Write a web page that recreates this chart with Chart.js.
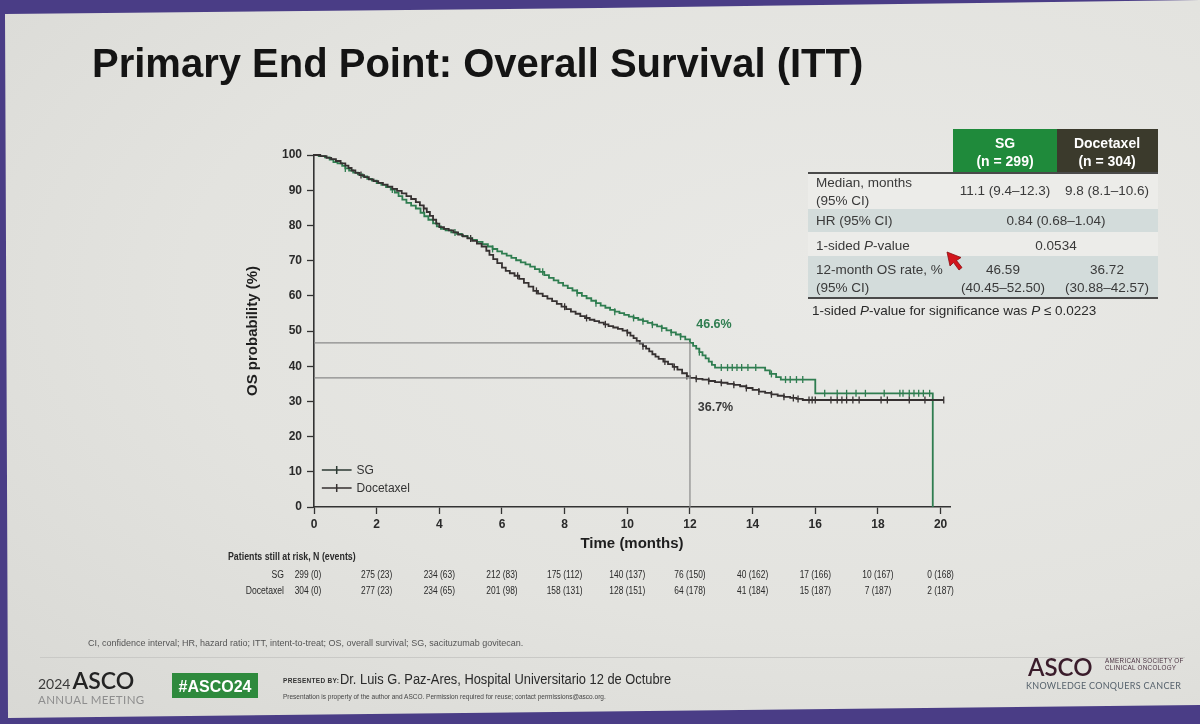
<!DOCTYPE html>
<html>
<head>
<meta charset="utf-8">
<script src="https://cdn.jsdelivr.net/npm/chart.js@4.4.1/dist/chart.umd.min.js"></script>
<style>
html,body{margin:0;padding:0;width:1200px;height:724px;overflow:hidden;background:#4a3d86;font-family:"Liberation Sans",Arial,sans-serif;}
#slide{position:absolute;left:0;top:0;width:1200px;height:724px;
  background:radial-gradient(ellipse at 70% 40%,#e9e9e6 0%,#e3e3df 55%,#d8d8d4 100%);
  clip-path:polygon(5px 14px,600px 8px,1200px 0,1200px 705px,8px 718px);}
#c{position:absolute;left:0;top:0;z-index:2;}
.t{position:absolute;white-space:nowrap;z-index:3;}
.box{position:absolute;z-index:1;}
</style>
</head>
<body>
<div id="slide"></div>
<canvas id="c" width="1200" height="724"></canvas>
<div id="ov"></div>
<script>
// ---------------- data ----------------
const months = [0,2,4,6,8,10,12,14,16,18,20];
const yTicks = [0,10,20,30,40,50,60,70,80,90,100];

const sgTime = [
  0,0.15,0.35,0.5,0.62,0.75,0.9,1.0,1.12,1.25,
  1.4,1.55,1.7,1.85,2.0,2.15,2.3,2.45,2.58,2.7,
  2.82,2.95,3.1,3.25,3.4,3.52,3.65,3.8,3.92,4.05,
  4.2,4.38,4.55,4.72,4.9,5.05,5.2,5.38,5.55,5.7,
  5.85,6.0,6.15,6.3,6.45,6.6,6.75,6.9,7.05,7.2,
  7.35,7.5,7.65,7.8,7.95,8.1,8.25,8.4,8.55,8.7,
  8.85,9.0,9.15,9.3,9.45,9.6,9.75,9.9,10.05,10.2,
  10.35,10.5,10.65,10.8,10.95,11.1,11.25,11.4,11.55,11.7,
  11.85,12.0,12.1,12.2,12.3,12.4,12.5,12.6,12.7,12.8,
  14.4,14.55,14.75,14.9,16.0,19.75];
const sgSurv = [
  100,99.7,99.3,98.7,98.0,97.6,96.9,96.2,95.6,95.0,
  94.5,93.9,93.2,92.7,92.0,91.5,90.9,90.2,89.3,88.3,
  87.3,86.4,85.6,84.8,83.6,82.6,81.6,80.6,79.7,79.0,
  78.6,78.0,77.6,77.0,76.4,75.9,75.3,74.7,74.0,73.3,
  72.6,72.0,71.4,70.8,70.1,69.5,68.9,68.3,67.6,66.8,
  65.9,65.1,64.4,63.7,62.9,62.2,61.5,60.8,60.0,59.3,
  58.6,57.9,57.2,56.6,56.0,55.5,55.1,54.6,54.1,53.7,
  53.2,52.8,52.3,51.8,51.3,50.8,50.2,49.6,49.0,48.4,
  47.6,46.6,45.8,45.0,44.0,43.1,42.2,41.3,40.4,39.6,
  38.8,37.8,36.9,36.2,32.3,0];

const docTime = [
  0,0.2,0.4,0.55,0.7,0.85,1.0,1.1,1.2,1.32,
  1.45,1.6,1.75,1.9,2.05,2.2,2.35,2.5,2.65,2.8,
  2.95,3.1,3.25,3.38,3.5,3.6,3.7,3.8,3.9,4.0,
  4.15,4.3,4.45,4.6,4.75,4.9,5.05,5.2,5.35,5.5,
  5.6,5.72,5.85,6.0,6.12,6.25,6.4,6.55,6.7,6.85,
  7.0,7.15,7.3,7.45,7.6,7.75,7.9,8.05,8.2,8.35,
  8.5,8.65,8.8,8.95,9.1,9.25,9.4,9.55,9.7,9.85,
  10.0,10.1,10.2,10.3,10.4,10.5,10.6,10.7,10.8,10.9,
  11.0,11.15,11.3,11.45,11.6,11.75,11.9,12.0,12.2,12.4,
  12.6,12.8,13.0,13.2,13.4,13.6,13.8,14.0,14.2,14.4,
  14.6,14.8,15.0,15.2,15.4,15.6,20.1];
const docSurv = [
  100,99.7,99.2,98.8,98.3,97.6,97.0,96.3,95.6,94.9,
  94.3,93.7,93.1,92.6,92.1,91.6,91.0,90.4,89.8,89.1,
  88.3,87.5,86.6,85.7,84.8,83.8,82.7,81.6,80.5,79.5,
  79.0,78.6,78.0,77.4,76.9,76.3,75.6,74.8,74.0,72.8,
  71.6,70.4,69.3,68.0,67.1,66.4,65.7,64.8,63.7,62.6,
  61.4,60.6,59.9,59.2,58.5,57.7,56.9,56.2,55.5,54.9,
  54.2,53.7,53.2,52.8,52.4,51.9,51.4,51.0,50.6,50.1,
  49.5,48.7,48.0,47.2,46.4,45.7,45.0,44.2,43.4,42.7,
  42.1,41.3,40.6,39.8,39.0,38.0,37.2,36.7,36.4,36.2,
  35.8,35.5,35.3,35.0,34.7,34.3,33.8,33.3,32.8,32.4,
  32.0,31.6,31.3,31.0,30.7,30.4,30.4];

const sgCensor = [1.0,2.5,4.5,5.7,7.3,8.4,9.0,9.6,10.2,10.5,10.8,11.1,11.4,11.7,12.3,13.0,13.2,13.35,13.5,13.65,13.85,14.1,14.6,15.05,15.2,15.4,15.6,16.3,16.7,17.0,17.3,17.6,18.2,18.7,18.8,19.0,19.15,19.3,19.45,19.65];
const docCensor = [1.5,3.5,5.0,6.5,7.1,8.0,8.7,9.3,10.0,10.5,11.2,11.5,11.9,12.2,12.6,13.0,13.4,13.8,14.2,14.6,15.0,15.3,15.45,15.8,15.9,16.0,16.5,16.7,16.85,17.0,17.2,17.4,18.1,18.3,19.0,19.5,20.1];

const landmarkMonth = 12;
const sgAt12 = 46.6;
const docAt12 = 36.7;
const sgLabel = "46.6%";
const docLabel = "36.7%";

const riskSG  = ["299 (0)","275 (23)","234 (63)","212 (83)","175 (112)","140 (137)","76 (150)","40 (162)","17 (166)","10 (167)","0 (168)"];
const riskDoc = ["304 (0)","277 (23)","234 (65)","201 (98)","158 (131)","128 (151)","64 (178)","41 (184)","15 (187)","7 (187)","2 (187)"];
const seriesNames = ["SG","Docetaxel"];

// ---------------- helpers ----------------
function stepAt(times, surv, t){
  let v = surv[0];
  for (let i=0;i<times.length;i++){ if (times[i] <= t) v = surv[i]; }
  return v;
}
const toPts = (ts, ss) => ts.map((t,i)=>({x:t, y:ss[i]}));
const censorPts = (cs, ts, ss) => cs.map(t=>({x:t, y:stepAt(ts, ss, t)}));

const GREEN = '#2f7d50';
const DARK = '#363131';
const AX = '#333333';

function condensed(ctx, text, x, y, align, sx){
  ctx.save();
  ctx.translate(x, y);
  ctx.scale(sx, 1);
  ctx.textAlign = align;
  ctx.fillText(text, 0, 0);
  ctx.restore();
}

const overlay = {
  id:'overlay',
  afterDraw(chart){
    const {ctx, scales:{x, y}} = chart;
    ctx.save();
    ctx.textBaseline = 'middle';
    ctx.textAlign = 'left';
    ctx.font = 'bold 12.5px "Liberation Sans", Arial';
    ctx.fillStyle = GREEN;
    ctx.fillText(sgLabel, x.getPixelForValue(12.2), y.getPixelForValue(51.7));
    ctx.fillStyle = '#3a3a3a';
    ctx.fillText(docLabel, x.getPixelForValue(12.25), y.getPixelForValue(28.2));

    // legend inside plot
    const legY = [10.5, 5.4];
    ctx.font = '12px "Liberation Sans", Arial';
    legY.forEach((lv, i) => {
      const py = y.getPixelForValue(lv);
      const x0 = x.getPixelForValue(0.25), x1 = x.getPixelForValue(1.2);
      ctx.strokeStyle = i === 0 ? '#2d3a33' : DARK;
      ctx.lineWidth = 1.5;
      ctx.beginPath(); ctx.moveTo(x0, py); ctx.lineTo(x1, py);
      const xm = (x0 + x1) / 2;
      ctx.moveTo(xm, py - 4); ctx.lineTo(xm, py + 4);
      ctx.stroke();
      ctx.fillStyle = '#333';
      ctx.fillText(seriesNames[i], x1 + 5, py + 0.5);
    });

    // risk table
    ctx.fillStyle = '#2a2a2a';
    ctx.font = 'bold 10px "Liberation Sans", Arial';
    condensed(ctx, 'Patients still at risk, N (events)', 228, 557, 'left', 0.88);
    ctx.font = '10px "Liberation Sans", Arial';
    condensed(ctx, seriesNames[0], 284, 575, 'right', 0.86);
    condensed(ctx, seriesNames[1], 284, 591, 'right', 0.86);
    months.forEach((m, i) => {
      const px = x.getPixelForValue(m) - (i === 0 ? 6 : 0);
      condensed(ctx, riskSG[i], px, 575, 'center', 0.84);
      condensed(ctx, riskDoc[i], px, 591, 'center', 0.84);
    });
    ctx.restore();
  }
};

const refStyle = {borderColor:'#8a8a8a', borderWidth:1.2, pointRadius:0, showLine:true, fill:false};

new Chart(document.getElementById('c'), {
  type:'scatter',
  data:{
    datasets:[
      Object.assign({label:'ref1', data:[{x:0,y:sgAt12},{x:landmarkMonth,y:sgAt12}]}, refStyle),
      Object.assign({label:'ref2', data:[{x:0,y:docAt12},{x:landmarkMonth,y:docAt12}]}, refStyle),
      Object.assign({label:'ref3', data:[{x:landmarkMonth,y:sgAt12},{x:landmarkMonth,y:0}]}, refStyle),
      {label:seriesNames[1], data:toPts(docTime, docSurv), showLine:true, stepped:'before', borderColor:DARK, borderWidth:1.8, pointRadius:0},
      {label:seriesNames[0], data:toPts(sgTime, sgSurv), showLine:true, stepped:'before', borderColor:GREEN, borderWidth:1.8, pointRadius:0},
      {label:'docC', data:censorPts(docCensor, docTime, docSurv), showLine:false, pointStyle:'line', rotation:90, pointRadius:3.5, borderColor:DARK, borderWidth:1.3},
      {label:'sgC', data:censorPts(sgCensor, sgTime, sgSurv), showLine:false, pointStyle:'line', rotation:90, pointRadius:3.5, borderColor:GREEN, borderWidth:1.3}
    ]
  },
  options:{
    responsive:false, animation:false, clip:false,
    layout:{padding:{left:240, top:155, right:250, bottom:167}},
    plugins:{legend:{display:false}, tooltip:{enabled:false}},
    scales:{
      x:{type:'linear', min:0, max:20.3,
        afterBuildTicks:s=>{s.ticks = months.map(v=>({value:v}));},
        afterFit:s=>{s.height = 50;},
        ticks:{color:'#2a2a2a', font:{family:'"Liberation Sans", Arial', size:12, weight:'bold'}, padding:3},
        grid:{drawOnChartArea:false, drawTicks:true, tickLength:7, color:AX, tickWidth:1.3},
        border:{color:AX, width:1.6},
        title:{display:true, text:'Time (months)', color:'#1e1e1e', font:{family:'"Liberation Sans", Arial', size:15, weight:'bold'}, padding:{top:2,bottom:4}}
      },
      y:{type:'linear', min:0, max:100,
        afterBuildTicks:s=>{s.ticks = yTicks.map(v=>({value:v}));},
        afterFit:s=>{s.width = 74;},
        ticks:{color:'#2a2a2a', font:{family:'"Liberation Sans", Arial', size:12, weight:'bold'}, padding:5},
        grid:{drawOnChartArea:false, drawTicks:true, tickLength:7, color:AX, tickWidth:1.3},
        border:{color:AX, width:1.6},
        title:{display:true, text:'OS probability (%)', color:'#1e1e1e', font:{family:'"Liberation Sans", Arial', size:15, weight:'bold'}, padding:{top:4,bottom:4}}
      }
    }
  },
  plugins:[overlay]
});

// ---------------- slide text (HTML) ----------------
const ov = document.getElementById('ov');
function T(html, x, yc, size, o={}){
  const d = document.createElement('div');
  d.className = 't';
  const lh = Math.round(size*1.2);
  d.style.left = x + 'px';
  d.style.top = (yc - lh/2) + 'px';
  d.style.lineHeight = lh + 'px';
  d.style.fontSize = size + 'px';
  d.style.color = o.color || '#222';
  if (o.bold) d.style.fontWeight = 'bold';
  if (o.weight) d.style.fontWeight = o.weight;
  if (o.family) d.style.fontFamily = o.family;
  if (o.ls) d.style.letterSpacing = o.ls;
  let tr = '';
  if (o.align === 'center') tr += 'translateX(-50%) ';
  if (o.align === 'right') tr += 'translateX(-100%) ';
  if (o.sx) { tr += `scaleX(${o.sx})`; d.style.transformOrigin = 'left center'; }
  if (tr) d.style.transform = tr;
  d.innerHTML = html;
  ov.appendChild(d);
  return d;
}
function B(x, y, w, h, bg){
  const d = document.createElement('div');
  d.className = 'box';
  d.style.cssText += `left:${x}px;top:${y}px;width:${w}px;height:${h}px;background:${bg};`;
  ov.appendChild(d);
  return d;
}

// title
T('Primary End Point: Overall Survival (ITT)', 92, 63, 40, {bold:true, color:'#141414'});

// results table
B(808, 174, 350, 124, '#ecece9');
B(953, 129, 104, 44, '#1f8a3b');
B(1057, 129, 101, 44, '#3b3a2c');
B(808, 172, 350, 2, '#4a4a4a');
B(808, 209, 350, 23, '#d3dcdb');
B(808, 256, 350, 42, '#d3dcdb');
B(808, 297, 350, 2, '#4a4a4a');
T('SG', 1005, 143, 14, {bold:true, color:'#fff', align:'center'});
T('(n = 299)', 1005, 161, 14, {bold:true, color:'#fff', align:'center'});
T('Docetaxel', 1107, 143, 14, {bold:true, color:'#fff', align:'center'});
T('(n = 304)', 1107, 161, 14, {bold:true, color:'#fff', align:'center'});
const tc = '#3a3a3a';
T('Median, months', 816, 183, 13.5, {color:tc});
T('(95% CI)', 816, 201, 13.5, {color:tc});
T('11.1 (9.4–12.3)', 1005, 191, 13.5, {color:tc, align:'center'});
T('9.8 (8.1–10.6)', 1107, 191, 13.5, {color:tc, align:'center'});
T('HR (95% CI)', 816, 221, 13.5, {color:tc});
T('0.84 (0.68–1.04)', 1056, 221, 13.5, {color:tc, align:'center'});
T('1-sided <i>P</i>-value', 816, 246, 13.5, {color:tc});
T('0.0534', 1056, 246, 13.5, {color:tc, align:'center'});
T('12-month OS rate, %', 816, 270, 13.5, {color:tc});
T('(95% CI)', 816, 288, 13.5, {color:tc});
T('46.59', 1003, 270, 13.5, {color:tc, align:'center'});
T('(40.45–52.50)', 1003, 288, 13.5, {color:tc, align:'center'});
T('36.72', 1107, 270, 13.5, {color:tc, align:'center'});
T('(30.88–42.57)', 1107, 288, 13.5, {color:tc, align:'center'});
T('1-sided <i>P</i>-value for significance was <i>P</i> ≤ 0.0223', 812, 311, 13.5, {color:'#2a2a2a'});

// cursor
const cur = document.createElement('div');
cur.className = 't';
cur.style.left = '946px'; cur.style.top = '251px';
cur.innerHTML = '<svg width="20" height="24" viewBox="0 0 20 24"><polygon points="1,1 4,15 7.5,11.5 13,19 16,16.5 10.5,9.5 15,6.5" fill="#d3151c" stroke="#8a0d10" stroke-width="0.8"/></svg>';
ov.appendChild(cur);

// footnote + footer
T('CI, confidence interval; HR, hazard ratio; ITT, intent-to-treat; OS, overall survival; SG, sacituzumab govitecan.', 88, 643, 9, {color:'#555'});
B(40, 657, 1145, 1, '#c9c9c6');
T('<span style="color:#3a3a3a;font-size:14px">2024</span><span style="font-weight:600;color:#232323;margin-left:2px">ASCO</span>', 38, 680, 23, {family:'Lato, "Liberation Sans", sans-serif', weight:'normal'});
T('ANNUAL MEETING', 38, 699.5, 11.5, {color:'#8e8e8e', family:'Lato, "Liberation Sans", sans-serif', ls:'0.4px'});
B(172, 673, 86, 25, '#2e8a3d');
T('#ASCO24', 215, 686, 16, {bold:true, color:'#fff', align:'center'});
T('PRESENTED BY:', 283, 681, 6.5, {bold:true, color:'#333', ls:'0.3px'});
T('Dr. Luis G. Paz-Ares, Hospital Universitario 12 de Octubre', 340, 678, 15.5, {color:'#2a2a2a', sx:0.83});
T('Presentation is property of the author and ASCO. Permission required for reuse; contact permissions@asco.org.', 283, 697, 6.5, {color:'#444'});
T('ASCO', 1028, 666, 24, {color:'#3a1c2b', family:'Lato, "Liberation Sans", sans-serif', weight:'600'});
T('AMERICAN SOCIETY OF', 1105, 661, 6.3, {color:'#4a3240', ls:'0.3px'});
T('CLINICAL ONCOLOGY', 1105, 668, 6.3, {color:'#4a3240', ls:'0.3px'});
T('KNOWLEDGE CONQUERS CANCER', 1026, 685, 9, {color:'#56626c', ls:'0.3px', family:'Lato, "Liberation Sans", sans-serif'});
</script>
</body>
</html>
